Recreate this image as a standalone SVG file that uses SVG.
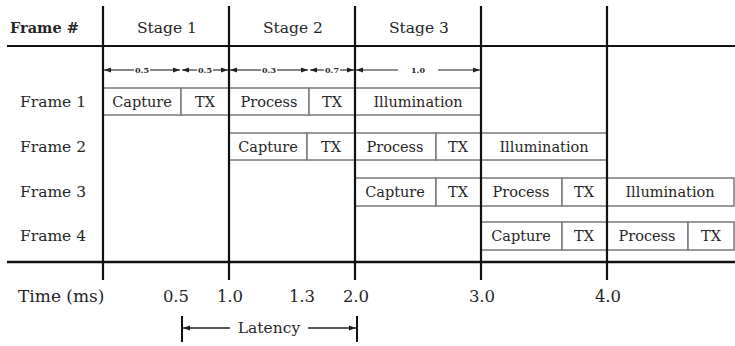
<svg xmlns="http://www.w3.org/2000/svg" width="735" height="346" viewBox="0 0 735 346">
<style>
text{font-family:"DejaVu Serif","Liberation Serif",serif;fill:#262626}
.hdr{font-size:15.5px;text-anchor:middle}
.fr{font-size:15.5px}
.bx{font-size:14.5px;text-anchor:middle}
.dim{font-size:8px;text-anchor:middle;font-weight:bold}
.ax{font-size:16.5px;text-anchor:middle}
.box{fill:#fff;stroke:#7a7a7a;stroke-width:1.5}
.grid{stroke:#111;stroke-width:2.2;fill:none}
.conn{stroke:#222;stroke-width:1.1;fill:none}
</style>
<defs>
<marker id="ah" markerWidth="7" markerHeight="6" refX="7" refY="3" orient="auto-start-reverse" markerUnits="userSpaceOnUse">
<path d="M0,0.5 L7,3 L0,5.5 z" fill="#222"/>
</marker>
</defs>
<rect width="735" height="346" fill="#fff"/>

<g id="header">
<text x="10" y="33" style="font-size:14.5px;font-weight:bold">Frame #</text>
<text class="hdr" x="167" y="33">Stage 1</text>
<text class="hdr" x="293" y="33">Stage 2</text>
<text class="hdr" x="419" y="33">Stage 3</text>
</g>

<g id="frame1">
<text class="fr" x="20" y="107">Frame 1</text>
<rect class="box" x="103" y="88" width="78" height="27"/><text class="bx" x="142" y="107">Capture</text>
<rect class="box" x="181" y="88" width="48" height="27"/><text class="bx" x="205" y="107">TX</text>
<rect class="box" x="229" y="88" width="80" height="27"/><text class="bx" x="269" y="107">Process</text>
<rect class="box" x="309" y="88" width="46" height="27"/><text class="bx" x="332" y="107">TX</text>
<rect class="box" x="355" y="88" width="126" height="27"/><text class="bx" x="418" y="107">Illumination</text>
</g>

<g id="frame2">
<text class="fr" x="20" y="152">Frame 2</text>
<rect class="box" x="229" y="133" width="78" height="27"/><text class="bx" x="268" y="152">Capture</text>
<rect class="box" x="307" y="133" width="48" height="27"/><text class="bx" x="331" y="152">TX</text>
<rect class="box" x="355" y="133" width="81" height="27"/><text class="bx" x="395" y="152">Process</text>
<rect class="box" x="436" y="133" width="45" height="27"/><text class="bx" x="458" y="152">TX</text>
<rect class="box" x="481" y="133" width="126" height="27"/><text class="bx" x="544" y="152">Illumination</text>
</g>

<g id="frame3">
<text class="fr" x="20" y="197">Frame 3</text>
<rect class="box" x="355" y="178" width="81" height="28"/><text class="bx" x="395" y="197">Capture</text>
<rect class="box" x="436" y="178" width="45" height="28"/><text class="bx" x="458" y="197">TX</text>
<rect class="box" x="481" y="178" width="81" height="28"/><text class="bx" x="521" y="197">Process</text>
<rect class="box" x="562" y="178" width="45" height="28"/><text class="bx" x="584" y="197">TX</text>
<rect class="box" x="607" y="178" width="127" height="28"/><text class="bx" x="670" y="197">Illumination</text>
</g>

<g id="frame4">
<text class="fr" x="20" y="241">Frame 4</text>
<rect class="box" x="481" y="222" width="81" height="28"/><text class="bx" x="521" y="241">Capture</text>
<rect class="box" x="562" y="222" width="45" height="28"/><text class="bx" x="584" y="241">TX</text>
<rect class="box" x="607" y="222" width="81" height="28"/><text class="bx" x="647" y="241">Process</text>
<rect class="box" x="688" y="222" width="46" height="28"/><text class="bx" x="711" y="241">TX</text>
</g>

<g id="grid">
<line class="grid" x1="7" y1="46" x2="735" y2="46"/>
<line class="grid" x1="7" y1="262" x2="735" y2="262" style="stroke-width:2.6"/>
<line class="grid" x1="103" y1="6" x2="103" y2="280"/>
<line class="grid" x1="229" y1="6" x2="229" y2="280"/>
<line class="grid" x1="355" y1="6" x2="355" y2="280"/>
<line class="grid" x1="481" y1="6" x2="481" y2="280"/>
<line class="grid" x1="607" y1="6" x2="607" y2="280"/>
</g>

<g id="axis-labels">
<text x="18" y="302" style="font-size:17px">Time (ms)</text>
<text class="ax" x="176" y="302">0.5</text>
<text class="ax" x="230" y="302">1.0</text>
<text class="ax" x="302" y="302">1.3</text>
<text class="ax" x="356" y="302">2.0</text>
<text class="ax" x="482" y="302">3.0</text>
<text class="ax" x="608" y="302">4.0</text>
</g>

<g id="connectors">
<line class="conn" x1="134" y1="70" x2="104" y2="70" marker-end="url(#ah)"/>
<line class="conn" x1="150" y1="70" x2="180" y2="70" marker-end="url(#ah)"/>
<text class="dim" x="142" y="73">0.5</text>
<line class="conn" x1="197" y1="70" x2="182" y2="70" marker-end="url(#ah)"/>
<line class="conn" x1="213" y1="70" x2="228" y2="70" marker-end="url(#ah)"/>
<text class="dim" x="205" y="73">0.5</text>
<line class="conn" x1="261" y1="70" x2="230" y2="70" marker-end="url(#ah)"/>
<line class="conn" x1="277" y1="70" x2="308" y2="70" marker-end="url(#ah)"/>
<text class="dim" x="269" y="73">0.3</text>
<line class="conn" x1="324" y1="70" x2="310" y2="70" marker-end="url(#ah)"/>
<line class="conn" x1="340" y1="70" x2="354" y2="70" marker-end="url(#ah)"/>
<text class="dim" x="332" y="73">0.7</text>
<line class="conn" x1="398" y1="70" x2="356" y2="70" marker-end="url(#ah)"/>
<line class="conn" x1="438" y1="70" x2="480" y2="70" marker-end="url(#ah)"/>
<text class="dim" x="418" y="73">1.0</text>

<line class="grid" x1="182" y1="316" x2="182" y2="342" style="stroke-width:2"/>
<line class="grid" x1="357" y1="316" x2="357" y2="342" style="stroke-width:2"/>
<line class="conn" x1="230" y1="328" x2="183" y2="328" marker-end="url(#ah)" style="stroke-width:1.6"/>
<line class="conn" x1="308" y1="328" x2="356" y2="328" marker-end="url(#ah)" style="stroke-width:1.6"/>
<text x="269" y="333" style="font-size:15.5px;text-anchor:middle">Latency</text>
</g>
</svg>
